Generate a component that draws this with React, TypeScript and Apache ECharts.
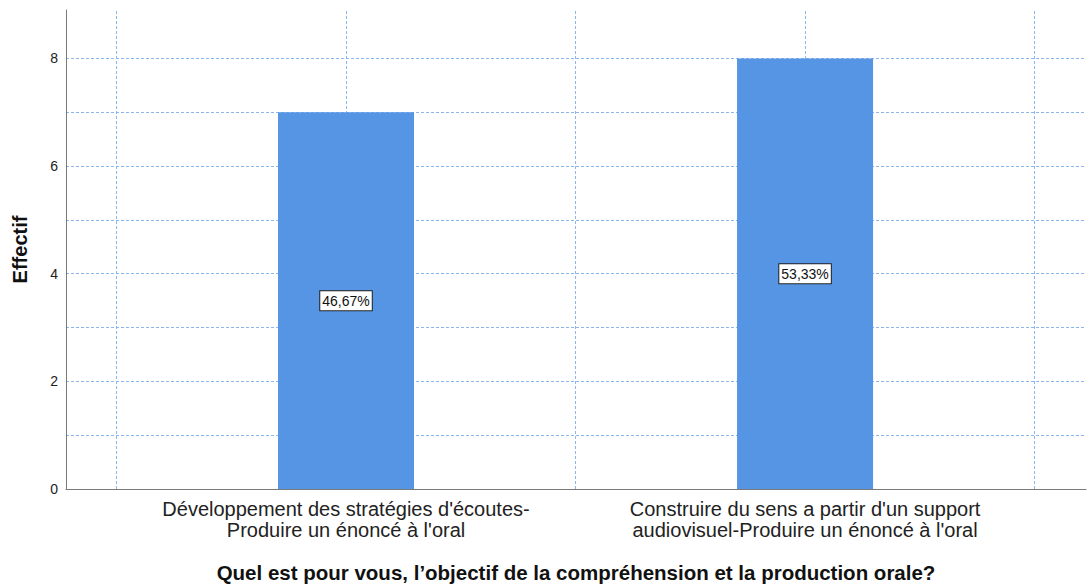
import React, { useEffect, useRef } from "react";
import * as echarts from "echarts";

const categories = [
  "Développement des stratégies d'écoutes-\nProduire un énoncé à l'oral",
  "Construire du sens a partir d'un support\naudiovisuel-Produire un énoncé à l'oral",
];
const categoryPositions = [1, 2];
const counts = [7, 8];
const percentLabels = ["46,67%", "53,33%"];
const verticalGridPositions = [0.5, 1, 1.5, 2, 2.5];
const yTickLabels = [0, 2, 4, 6, 8];

const FONT = "'Liberation Sans', Arial, sans-serif";
const GRID_COLOR = "#8cb6ee";

export default function App() {
  const ref = useRef<HTMLDivElement>(null);
  useEffect(() => {
    if (!ref.current) return;
    const chart = echarts.init(ref.current, undefined, { renderer: "svg" });
    chart.setOption({
      animation: false,
      backgroundColor: "#ffffff",
      grid: { left: 66, right: 1, top: 10, bottom: 95, containLabel: false, outerBoundsMode: "none" },
      xAxis: {
        type: "value",
        min: 0.39,
        max: 2.612,
        name: "Quel est pour vous, l’objectif de la compréhension et la production orale?",
        nameLocation: "middle",
        nameGap: 73,
        nameTextStyle: { fontFamily: FONT, fontSize: 20.5, fontWeight: "bold", color: "#111" },
        axisLine: { show: true, lineStyle: { color: "#7a7a7a", width: 1 } },
        axisTick: { show: false, customValues: categoryPositions },
        splitLine: { show: false },
        axisLabel: {
          customValues: categoryPositions,
          formatter: (v: number) => {
            const i = categoryPositions.indexOf(Math.round(v));
            return i >= 0 ? categories[i] : "";
          },
          fontFamily: FONT,
          fontSize: 20,
          lineHeight: 21,
          color: "#222",
          margin: 9,
        },
      },
      yAxis: {
        type: "value",
        min: 0,
        max: 8.9,
        interval: 1,
        name: "Effectif",
        nameLocation: "middle",
        nameGap: 36,
        nameTextStyle: { fontFamily: FONT, fontSize: 20, fontWeight: "bold", color: "#111" },
        axisLine: { show: true, lineStyle: { color: "#7a7a7a", width: 1 } },
        axisTick: { show: false },
        axisLabel: {
          fontFamily: FONT,
          fontSize: 14,
          color: "#222",
          margin: 8,
          showMaxLabel: false,
          formatter: (v: number) => (yTickLabels.indexOf(v) >= 0 ? String(v) : ""),
        },
        splitLine: {
          show: true,
          showMinLine: false,
          showMaxLine: false,
          lineStyle: { color: GRID_COLOR, width: 1, type: [3, 2] },
        },
      },
      series: [
        {
          type: "scatter",
          data: [],
          z: 1,
          silent: true,
          markLine: {
            silent: true,
            z: 1,
            symbol: "none",
            label: { show: false },
            lineStyle: { color: GRID_COLOR, width: 1, type: [3, 2] },
            data: verticalGridPositions.map((x) => ({ xAxis: x })),
          },
        },
        {
          type: "bar",
          z: 3,
          barWidth: 136,
          data: counts.map((c, i) => [categoryPositions[i], c]),
          itemStyle: { color: "#5694e4" },
          label: {
            show: true,
            position: "inside",
            formatter: (p: any) => percentLabels[p.dataIndex],
            fontFamily: FONT,
            fontSize: 14,
            color: "#111",
            backgroundColor: "#ffffff",
            borderColor: "#222",
            borderWidth: 1,
            padding: [3, 2, 2, 2],
          },
        },
      ],
    });
    return () => chart.dispose();
  }, []);
  return <div ref={ref} style={{ width: 1087, height: 584, position: "absolute", left: 0, top: 0 }} />;
}
